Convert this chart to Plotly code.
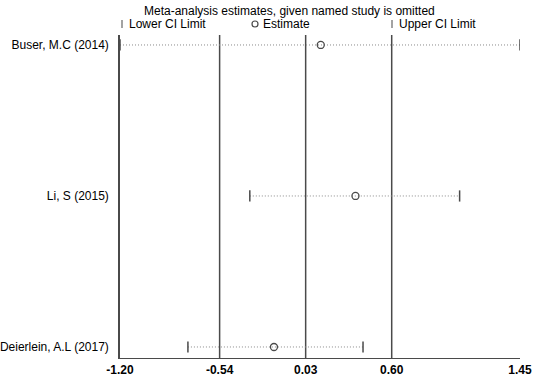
import plotly.graph_objects as go

studies = ["Buser, M.C (2014)", "Li, S (2015)", "Deierlein, A.L (2017)"]
lower = [-1.20, -0.34, -0.75]
estimate = [0.13, 0.36, -0.18]
upper = [1.45, 1.05, 0.41]
tick_vals = [-1.20, -0.54, 0.03, 0.60, 1.45]
tick_text = ["-1.20", "-0.54", "0.03", "0.60", "1.45"]
ref_lines = [-0.54, 0.03, 0.60]
title_text = "Meta-analysis estimates, given named study is omitted"

W, H = 536, 376
L, R, T, B = 120, 16, 35, 18
pw, ph = W - L - R, H - T - B

def px(x):
    return (x - L) / pw

def py(y):
    return (H - B - y) / ph

ypos = [1, 2, 3]
fig = go.Figure()
dark = "#4a4a4a"
for i, s in enumerate(studies):
    fig.add_trace(go.Scatter(x=[lower[i], upper[i]], y=[ypos[i], ypos[i]], mode="lines",
                             line=dict(color="#8a8a8a", width=1, dash="1px,2px"), showlegend=False, hoverinfo="skip"))
fig.add_trace(go.Scatter(x=lower, y=ypos, mode="markers",
                         marker=dict(symbol="line-ns", size=8, line=dict(color=dark, width=1.5)), showlegend=False))
fig.add_trace(go.Scatter(x=upper, y=ypos, mode="markers",
                         marker=dict(symbol="line-ns", size=8, line=dict(color=dark, width=1.5)), showlegend=False))
fig.add_trace(go.Scatter(x=estimate, y=ypos, mode="markers",
                         marker=dict(symbol="circle-open", size=7, color=dark, line=dict(color=dark, width=1.3)),
                         showlegend=False))

shapes = []
for v in ref_lines:
    shapes.append(dict(type="line", xref="x", yref="paper", x0=v, x1=v, y0=0, y1=1,
                       line=dict(color=dark, width=1.5), layer="below"))
# legend glyphs
shapes.append(dict(type="line", xref="paper", yref="paper", x0=px(122), x1=px(122), y0=py(28), y1=py(20),
                   line=dict(color="#666", width=1.2)))
shapes.append(dict(type="line", xref="paper", yref="paper", x0=px(392), x1=px(392), y0=py(28), y1=py(20),
                   line=dict(color="#666", width=1.2)))
shapes.append(dict(type="circle", xref="paper", yref="paper", x0=px(252), x1=px(258), y0=py(27), y1=py(21),
                   line=dict(color=dark, width=1.2)))

font = "Arial, Liberation Sans, sans-serif"
ann = [
    dict(text=title_text, x=px(142), y=py(11), xanchor="left", yanchor="middle"),
    dict(text="Lower CI Limit", x=px(127), y=py(24), xanchor="left", yanchor="middle"),
    dict(text="Estimate", x=px(261), y=py(24), xanchor="left", yanchor="middle"),
    dict(text="Upper CI Limit", x=px(397), y=py(24), xanchor="left", yanchor="middle"),
]
for a in ann:
    a.update(xref="paper", yref="paper", showarrow=False, align="left",
             font=dict(family=font, size=12, color="black"))

fig.update_layout(
    width=W, height=H, margin=dict(l=L, r=R, t=T, b=B, autoexpand=False),
    paper_bgcolor="white", plot_bgcolor="white", showlegend=False,
    shapes=shapes, annotations=ann,
    xaxis=dict(range=[-1.2, 1.45], tickvals=tick_vals, ticktext=[f"<b>{t}</b>" for t in tick_text],
               showgrid=False, zeroline=False, showline=True, linecolor=dark, linewidth=1.2,
               ticks="inside", ticklen=5, tickcolor=dark, tickwidth=1.2, automargin=False,
               tickfont=dict(family=font, size=12, color="black")),
    yaxis=dict(range=[3.073, 0.934], tickvals=ypos, ticktext=studies, showgrid=False, zeroline=False,
               showline=True, linecolor=dark, linewidth=1.5, ticks="", automargin=False,
               tickfont=dict(family=font, size=12, color="black"), ticklabelstandoff=7),
)
fig.write_html("out.html", config={"displayModeBar": False},
               post_script="document.body.style.margin='0';")
